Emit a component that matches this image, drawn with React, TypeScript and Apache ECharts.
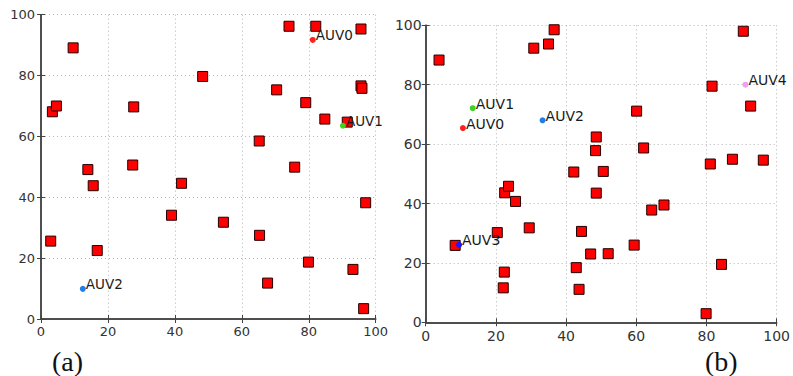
import React, { useEffect, useRef } from "react";
import * as echarts from "echarts";

// ---- Data: panel (a) ----
const targetsA: [number, number][] = [
  [9.6, 89.1], [3.4, 68.1], [4.6, 70.0], [27.7, 69.7], [14.0, 49.1], [27.4, 50.6],
  [15.6, 43.8], [2.9, 25.6], [16.8, 22.5], [39.0, 34.1], [42.0, 44.6], [54.5, 31.8],
  [48.3, 79.7], [70.4, 75.3], [74.1, 96.2], [82.1, 96.2], [95.6, 95.3], [65.2, 58.5],
  [75.8, 49.9], [79.1, 71.1], [84.8, 65.7], [65.3, 27.5], [67.7, 11.8], [79.9, 18.7],
  [93.2, 16.3], [96.4, 3.4], [97.0, 38.2], [95.6, 76.6], [95.9, 75.8], [91.5, 64.7],
];
const auvNamesA = ["AUV0", "AUV1", "AUV2"];
const auvPosA: [number, number][] = [[81.2, 91.7], [90.2, 63.5], [12.5, 9.9]];
const auvColorsA = ["#ff2020", "#3fd21c", "#1f7ee8"];

// ---- Data: panel (b) ----
const targetsB: [number, number][] = [
  [3.8, 88.3], [30.8, 92.3], [35.0, 93.7], [36.6, 98.5], [48.6, 62.4], [48.4, 57.8],
  [42.2, 50.6], [90.5, 98.0], [81.6, 79.5], [92.6, 72.8], [60.1, 71.1], [62.1, 58.7],
  [50.6, 50.8], [81.1, 53.3], [87.4, 54.9], [96.2, 54.6], [22.5, 43.6], [23.6, 45.8],
  [25.6, 40.7], [48.6, 43.5], [20.4, 30.2], [29.5, 31.8], [44.4, 30.6], [8.4, 25.9],
  [47.0, 23.0], [42.9, 18.4], [22.4, 16.9], [22.1, 11.6], [43.7, 11.1], [64.4, 37.8],
  [67.9, 39.5], [59.4, 26.0], [52.0, 23.1], [84.3, 19.5], [79.9, 2.9],
];
const auvNamesB = ["AUV0", "AUV1", "AUV2", "AUV3", "AUV4"];
const auvPosB: [number, number][] = [[10.6, 65.4], [13.4, 72.1], [33.3, 68.0], [9.5, 26.1], [91.1, 80.0]];
const auvColorsB = ["#ff2020", "#3fd21c", "#1f7ee8", "#1a1aff", "#f0a0f0"];

const panelLabels = ["(a)", "(b)"];

export default function App() {
  const ref = useRef<HTMLDivElement>(null);
  useEffect(() => {
    if (!ref.current) return;
    const chart = echarts.init(ref.current, undefined, { renderer: "svg" });
    const grids = [
      { left: 41, top: 14.7, width: 334.7, height: 304.3 },
      { left: 425.7, top: 25.3, width: 353.6, height: 297 },
    ];
    const fontSizes = [13, 14];
    const gridLine = { show: true, lineStyle: { color: "#b5b5b5", type: [1, 3] as any, width: 1 } };
    const axisLine = { show: true, lineStyle: { color: "#444", width: 1.5 } };
    const tick = { show: true, inside: true, length: 4, lineStyle: { color: "#444", width: 1 } };
    const xAxes: any[] = [];
    const yAxes: any[] = [];
    grids.forEach((_, i) => {
      const fs = fontSizes[i];
      const base = { type: "value", min: 0, max: 100, interval: 20, gridIndex: i };
      xAxes.push({
        ...base, position: "bottom", axisLine, axisTick: tick, splitLine: gridLine,
        axisLabel: { fontFamily: "DejaVu Sans", fontSize: fs, color: "#333", margin: i === 0 ? 6 : 7 },
      });
      xAxes.push({
        ...base, position: "top", axisLine, axisTick: tick, splitLine: { show: false },
        axisLabel: { show: false },
      });
      yAxes.push({
        ...base, position: "left", axisLine, axisTick: tick, splitLine: gridLine,
        axisLabel: { fontFamily: "DejaVu Sans", fontSize: fs, color: "#333", margin: i === 0 ? 6 : 4 },
      });
      yAxes.push({
        ...base, position: "right", axisLine, axisTick: tick, splitLine: { show: false },
        axisLabel: { show: false },
      });
    });

    const squareSeries = (data: [number, number][], gi: number) => ({
      type: "scatter",
      xAxisIndex: gi * 2,
      yAxisIndex: gi * 2,
      symbol: "rect",
      symbolSize: 10,
      data,
      itemStyle: { color: "#ff0000", borderColor: "#220000", borderWidth: 1, opacity: 1 },
      z: 3,
    });
    const auvSeries = (names: string[], pos: [number, number][], colors: string[], gi: number, fs: number) => ({
      type: "scatter",
      xAxisIndex: gi * 2,
      yAxisIndex: gi * 2,
      symbol: "circle",
      symbolSize: 6,
      z: 4,
      data: pos.map((p, k) => ({
        value: p,
        name: names[k],
        itemStyle: { color: colors[k], opacity: 1 },
      })),
      label: {
        show: true,
        formatter: "{b}",
        position: [6, 5.5],
        align: "left",
        verticalAlign: "bottom",
        fontFamily: "DejaVu Sans",
        fontSize: fs,
        color: "#1a1a1a",
      },
    });

    chart.setOption({
      animation: false,
      backgroundColor: "#ffffff",
      grid: grids.map((g) => ({ ...g, containLabel: false })),
      xAxis: xAxes,
      yAxis: yAxes,
      series: [
        squareSeries(targetsA, 0),
        auvSeries(auvNamesA, auvPosA, auvColorsA, 0, 13.5),
        squareSeries(targetsB, 1),
        auvSeries(auvNamesB, auvPosB, auvColorsB, 1, 14),
      ],
      graphic: [
        {
          type: "text", left: 52, top: 347,
          style: { text: panelLabels[0], font: "28px 'Liberation Serif'", lineHeight: 22, fill: "#111" },
        },
        {
          type: "text", left: 705, top: 347,
          style: { text: panelLabels[1], font: "28px 'Liberation Serif'", lineHeight: 22, fill: "#111" },
        },
      ],
    });
    return () => chart.dispose();
  }, []);
  return (
    <div
      ref={ref}
      style={{ position: "fixed", left: 0, top: 0, width: 793, height: 376 }}
    />
  );
}
